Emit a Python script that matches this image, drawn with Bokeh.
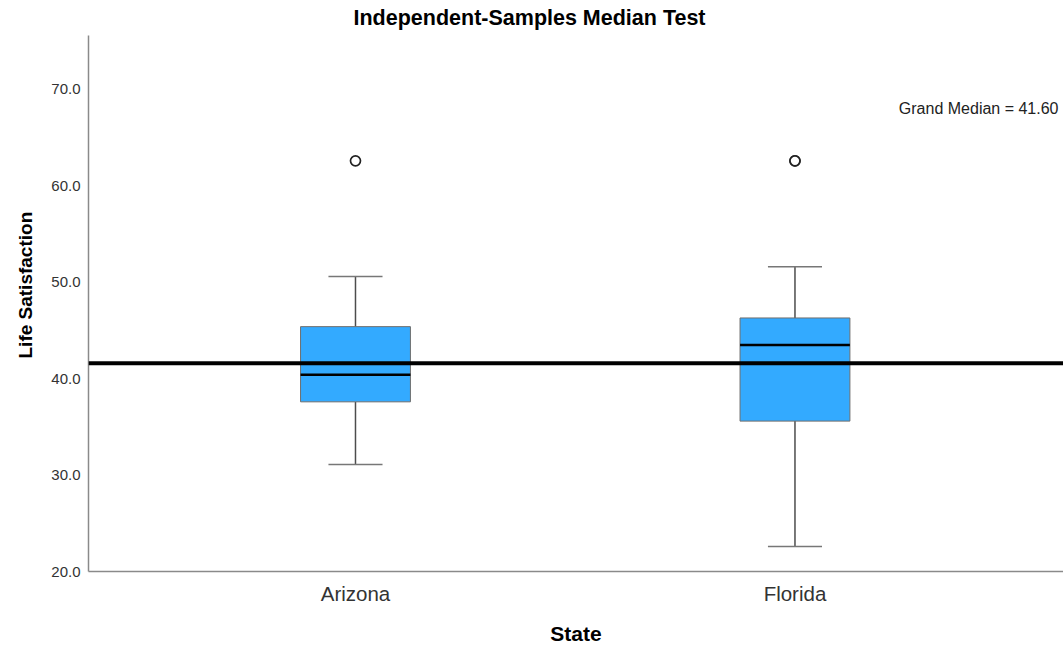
from bokeh.plotting import figure
from bokeh.models import Span, Label, Title, FixedTicker, NumeralTickFormatter, Range1d, ColumnDataSource
from bokeh.embed import file_html
from bokeh.resources import INLINE

# ---- data ----
states = ["Arizona", "Florida"]
lower_whisker = [31.1, 22.6]
q1 = [37.6, 35.6]
median = [40.4, 43.5]
q3 = [45.4, 46.3]
upper_whisker = [50.6, 51.6]
outlier_state = ["Arizona", "Florida", "Florida"]
outlier_value = [62.6, 62.6, 62.6]
grand_median = 41.60
y_ticks = [20, 30, 40, 50, 60, 70]

FONT = "Liberation Sans"
BOX_W = 0.25
CAP_W = 0.123

pos = {s: i + 1 for i, s in enumerate(states)}
xs = [pos[s] for s in states]

src = ColumnDataSource(dict(
    x=xs,
    left=[x - BOX_W / 2 for x in xs],
    right=[x + BOX_W / 2 for x in xs],
    cl=[x - CAP_W / 2 for x in xs],
    cr=[x + CAP_W / 2 for x in xs],
    lw=lower_whisker, q1=q1, med=median, q3=q3, uw=upper_whisker,
))
osrc = ColumnDataSource(dict(x=[pos[s] for s in outlier_state], y=outlier_value))

p = figure(width=1063, height=647, output_backend="svg", toolbar_location=None,
           x_range=Range1d(0.3925, 2.611), y_range=Range1d(20, 75.6), title=None,
           min_border_left=88, min_border_right=0, min_border_top=35, min_border_bottom=76)
p.outline_line_color = None
p.grid.visible = False
p.background_fill_color = "white"
p.border_fill_color = "white"

# whiskers & caps
wcol = "#4d4d4d"
p.segment(x0="x", y0="q3", x1="x", y1="uw", source=src, line_color=wcol, line_width=1.5)
p.segment(x0="x", y0="q1", x1="x", y1="lw", source=src, line_color=wcol, line_width=1.5)
p.segment(x0="cl", y0="uw", x1="cr", y1="uw", source=src, line_color="#777777", line_width=1.5)
p.segment(x0="cl", y0="lw", x1="cr", y1="lw", source=src, line_color="#777777", line_width=1.5)
# boxes
p.vbar(x="x", width=BOX_W, bottom="q1", top="q3", source=src,
       fill_color="#33aaff", line_color="#6e6e6e", line_width=1)
# medians
p.segment(x0="left", y0="med", x1="right", y1="med", source=src, line_color="black", line_width=2.5)
# outliers
p.scatter(x="x", y="y", source=osrc, marker="circle", size=10, fill_color="white",
          line_color="#222222", line_width=1.7)

# grand median line
p.add_layout(Span(location=grand_median, dimension="width", line_color="black", line_width=4))

# axes
p.yaxis.ticker = FixedTicker(ticks=y_ticks)
p.yaxis.formatter = NumeralTickFormatter(format="0.0")
p.xaxis.ticker = FixedTicker(ticks=xs)
p.xaxis.major_label_overrides = {x: s for x, s in zip(xs, states)}
for ax in (p.xaxis, p.yaxis):
    ax.axis_line_color = "#8a8a8a"
    ax.axis_line_width = 1.5
    ax.major_tick_line_color = None
    ax.minor_tick_line_color = None
    ax.major_tick_out = 0
    ax.major_tick_in = 0
    ax.minor_tick_out = 0
    ax.minor_tick_in = 0
    ax.major_label_text_font = FONT
    ax.major_label_text_color = "#333333"
p.yaxis.major_label_text_font_size = "15px"
p.yaxis.major_label_standoff = 8
p.xaxis.major_label_text_font_size = "20.5px"
p.xaxis.major_label_standoff = 10
p.xaxis.axis_label = "State"
p.xaxis.axis_label_text_font = FONT
p.xaxis.axis_label_text_font_size = "21px"
p.xaxis.axis_label_text_font_style = "bold"
p.xaxis.axis_label_text_color = "black"
p.xaxis.axis_label_standoff = 14

# y axis title (as a side title so it can sit off-centre like the reference)
p.add_layout(Title(text="Life Satisfaction", align="left", vertical_align="top",
                   offset=213, standoff=22,
                   text_font=FONT, text_font_size="19px", text_font_style="bold",
                   text_color="black"), "left")
# chart title
p.add_layout(Title(text="Independent-Samples Median Test", align="left", vertical_align="top",
                   offset=265, standoff=8,
                   text_font=FONT, text_font_size="21.5px", text_font_style="bold",
                   text_color="black"), "above")
# grand median annotation
p.add_layout(Label(x=970, y=463, x_units="screen", y_units="screen",
                   text=f"Grand Median = {grand_median:.2f}",
                   text_align="right", text_baseline="middle",
                   text_font=FONT, text_font_size="16px", text_color="#222222"))

open("out.html", "w").write(file_html(p, INLINE))
